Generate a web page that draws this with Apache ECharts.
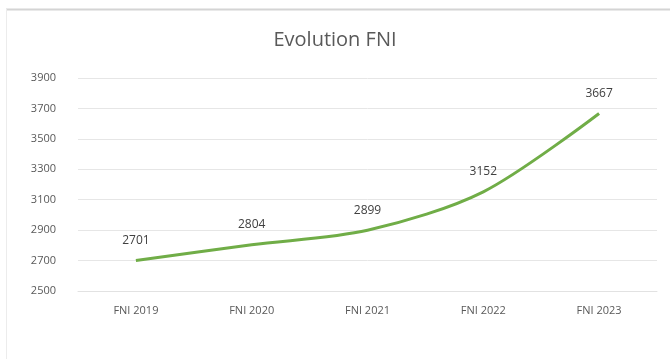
<!DOCTYPE html>
<html>
<head>
<meta charset="utf-8">
<script src="https://cdn.jsdelivr.net/npm/echarts@6/dist/echarts.min.js"></script>
<style>
  html, body { margin: 0; padding: 0; background: #ffffff; }
  #chart { width: 670px; height: 359px; }
</style>
</head>
<body>
<div id="chart"></div>
<script>
// FNI yearly values
const categories = ['FNI 2019', 'FNI 2020', 'FNI 2021', 'FNI 2022', 'FNI 2023'];
const fniValues = [2701, 2804, 2899, 3152, 3667];
const yTicks = { min: 2500, max: 3900, step: 200 };

const chart = echarts.init(document.getElementById('chart'), null, { renderer: 'canvas' });
const textColor = '#595959';
const fontFamily = '"Open Sans", "Liberation Sans", sans-serif';

chart.setOption({
  animation: false,
  backgroundColor: '#ffffff',
  title: {
    text: 'Evolution FNI',
    left: 'center',
    top: 25,
    textStyle: { color: textColor, fontSize: 20, fontWeight: 'normal', fontFamily: fontFamily }
  },
  graphic: [
    { type: 'line', shape: { x1: 6, y1: 9.5, x2: 670, y2: 9.5 }, style: { stroke: '#d4d4d4', lineWidth: 2 } },
    { type: 'line', shape: { x1: 6.5, y1: 9, x2: 6.5, y2: 359 }, style: { stroke: '#ececec', lineWidth: 1 } }
  ],
  grid: { left: 78, right: 13, top: 78, bottom: 68 },
  xAxis: {
    type: 'category',
    data: categories,
    boundaryGap: true,
    axisLine: { show: true, lineStyle: { color: '#e2e2e2', width: 1 } },
    axisTick: { show: false },
    axisLabel: { color: textColor, fontSize: 11, margin: 14, fontFamily: fontFamily }
  },
  yAxis: {
    type: 'value',
    min: yTicks.min,
    max: yTicks.max,
    interval: yTicks.step,
    axisLine: { show: false },
    axisTick: { show: false },
    splitLine: { lineStyle: { color: '#e6e6e6', width: 1 } },
    axisLabel: {
      color: textColor, fontSize: 11, margin: 22, fontFamily: fontFamily,
      formatter: function (v) { return String(v); }
    }
  },
  series: [{
    type: 'line',
    data: fniValues,
    smooth: 0.3,
    symbol: 'circle',
    symbolSize: 0,
    showSymbol: true,
    itemStyle: { color: '#70ad47' },
    lineStyle: { color: '#70ad47', width: 3 },
    label: {
      show: true,
      position: 'top',
      distance: 14,
      color: '#404040',
      fontSize: 12,
      fontFamily: fontFamily
    }
  }]
});
</script>
</body>
</html>
